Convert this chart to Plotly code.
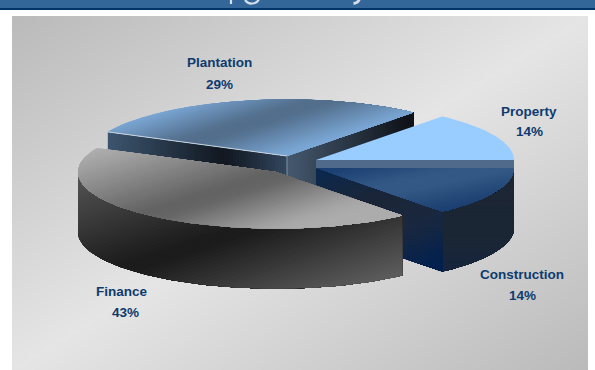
import numpy as np
import plotly.graph_objects as go

# Portfolio split by sector
sectors = ["Property", "Construction", "Finance", "Plantation"]
shares = [14, 14, 43, 29]
percent_text = [f"{v}%" for v in shares]

# Projected pie: ellipse radii and extrusion depth, in page pixels
W, H = 595, 370
RX, RY, DEPTH = 198.0, 56.6, 60.0

# Each slice is pulled away from the centre by its own offset
anchors = {
    "Property": (316, 160),
    "Construction": (316, 168),
    "Finance": (276, 172),
    "Plantation": (287, 156),
}


def hex_rgb(c):
    c = c.lstrip("#")
    return np.array([int(c[i:i + 2], 16) for i in (0, 2, 4)], float)


def colour_at(p, stops):
    """Colour at a position on the gradient axis, softened around each stop."""
    ps = [s[0] for s in stops]
    window = p + np.linspace(-10, 10, 11)
    rgb = [np.interp(window, ps, [hex_rgb(s[1])[k] for s in stops]).mean() for k in range(3)]
    return "rgb(%d,%d,%d)" % tuple(int(round(v)) for v in rgb)


def clip(poly, axis, level):
    """Keep the part of a polygon lying beyond a level along the gradient axis."""
    out = []
    n = len(poly)
    for i in range(n):
        a, b = poly[i], poly[(i + 1) % n]
        pa = a[0] * axis[0] + a[1] * axis[1] - level
        pb = b[0] * axis[0] + b[1] * axis[1] - level
        if pa >= 0:
            out.append(a)
        if (pa >= 0) != (pb >= 0):
            t = pa / (pa - pb)
            out.append((a[0] + t * (b[0] - a[0]), a[1] + t * (b[1] - a[1])))
    return out


def rim(name, a0, a1, n=90):
    cx, cy = anchors[name]
    th = np.radians(np.linspace(a0, a1, n))
    return list(zip(cx + RX * np.cos(th), cy - RY * np.sin(th)))


def rim_point(name, a):
    return rim(name, a, a, 1)[0]


def drop(points):
    return [(x, y + DEPTH) for x, y in points]


def top_face(name, a0, a1):
    return [anchors[name]] + rim(name, a0, a1)


def cut_face(name, a):
    edge = [anchors[name], rim_point(name, a)]
    return edge + drop(edge)[::-1]


def wall_face(name, a0, a1):
    arc = rim(name, a0, a1)
    return arc + drop(arc)[::-1]


fig = go.Figure()


def paint(poly, axis=(0, 1), stops=None, flat=None, steps=60):
    """Fill a face; gradients are layered bands that each run to the far end."""
    if flat is not None:
        levels, colours = [None], [flat]
    else:
        ps = [x * axis[0] + y * axis[1] for x, y in poly]
        levels = np.linspace(min(ps) - 1, max(ps), steps, endpoint=False)
        colours = [colour_at(l + (max(ps) - min(ps)) / steps / 2, stops) for l in levels]
    for level, colour in zip(levels, colours):
        part = poly if level is None else clip(poly, axis, level)
        if len(part) < 3:
            continue
        xs = [p[0] for p in part] + [part[0][0]]
        ys = [p[1] for p in part] + [part[0][1]]
        fig.add_trace(go.Scatter(
            x=xs, y=ys, mode="lines", fill="toself", fillcolor=colour,
            line=dict(width=0), hoverinfo="skip", showlegend=False,
        ))


def stroke(points, colour, width=1.0):
    fig.add_trace(go.Scatter(
        x=[p[0] for p in points], y=[p[1] for p in points], mode="lines",
        line=dict(color=colour, width=width), hoverinfo="skip", showlegend=False,
    ))


# Slice angles follow from the shares: property and construction meet at 0 degrees
sweep = [v / sum(shares) * 360 for v in shares]
prop_a0, prop_a1 = 0.0, sweep[0]
cons_a0, cons_a1 = 0.0, -sweep[1]
fin_a0, fin_a1 = cons_a1, cons_a1 - sweep[2]
pla_a0, pla_a1 = fin_a1, fin_a1 - sweep[3]

# Back-panel gradient: dark corners on one diagonal, light across the other
px0, px1, py0, py1 = 12, 588, 16, 376
gx = np.arange(px0 + 4, px1, 8)
gy = np.arange(py0 + 4, py1, 8)
gu = (gx[None, :] - px0) / (px1 - px0) + (gy[:, None] - py0) / (370 - py0)
fig.add_trace(go.Heatmap(
    x=gx, y=gy, z=1 - np.abs(gu - 1), zmin=0, zmax=1, zsmooth="best",
    colorscale=[[0, "#bababa"], [1, "#e5e5e5"]], showscale=False, hoverinfo="skip",
))

# Plantation (furthest back)
paint(cut_face("Plantation", pla_a1), (1, 0),
      [(287, "#46596f"), (345, "#2b3847"), (411, "#0e1116")])
paint(cut_face("Plantation", pla_a0), (1, 0),
      [(109, "#3d556f"), (225, "#10161f"), (287, "#33475f")])
paint(top_face("Plantation", pla_a0, pla_a1), (0.3, 0.95),
      [(150, "#80aede"), (192, "#4c6580"), (235, "#80aede")])
stroke([rim_point("Plantation", pla_a0), anchors["Plantation"]], "#c9d4de", 1)
stroke([anchors["Plantation"], (anchors["Plantation"][0], anchors["Plantation"][1] + DEPTH)], "#7f93a8", 1)

# Property: only its front cut shows below the flat top
paint(cut_face("Property", prop_a0), flat="#4f6a8a")
paint(top_face("Property", prop_a0, prop_a1), flat="#99ccff")

# Construction
paint(wall_face("Construction", cons_a1, cons_a0), (0, 1),
      [(170, "#1c2633"), (240, "#1b2635"), (280, "#142440")])
paint(cut_face("Construction", cons_a1), (0.4, 0.9),
      [(277, "#0a2850"), (330, "#1b2636"), (370, "#1a2840"), (415, "#002050")])
paint(top_face("Construction", cons_a0, cons_a1), (0.2, 0.98),
      [(228, "#153a6e"), (262, "#3a5f8a"), (300, "#163a6c")])

# Finance (nearest)
paint(wall_face("Finance", -180, fin_a0), (0.32, 0.95),
      [(189, "#565656"), (297, "#181818"), (390, "#5e5e5e")])
paint(top_face("Finance", fin_a0, fin_a1), (0.3, 0.95),
      [(170, "#b0b0b0"), (250, "#5c5c5c"), (300, "#acacac")])

# Page band along the top, with the lower tips of the heading's letters on it
heading_tip = dict(color="#d3deea", width=2.2)
shapes = [
    dict(type="rect", x0=0, x1=W, y0=0, y1=8, fillcolor="#336699", line_width=0, layer="below"),
    dict(type="rect", x0=0, x1=W, y0=8, y1=10, fillcolor="#003366", line_width=0, layer="below"),
    dict(type="path", path="M 231 -1 L 231 4", line=heading_tip),
    dict(type="path", path="M 245 0 Q 248 4 252 3.5 Q 257 3.5 259 -1", line=heading_tip),
    dict(type="path", path="M 359.5 -1 Q 358 3 353.5 3.5", line=dict(color="#d3deea", width=2.8)),
]

name_pos = {"Property": (529, 111), "Construction": (522, 274),
            "Finance": (122, 291), "Plantation": (219, 62)}
pct_pos = {"Property": (529, 131), "Construction": (522, 295),
           "Finance": (125, 312), "Plantation": (219, 84)}
label_font = dict(family="Liberation Sans", size=13.5, color="#0d3b6e")

annotations = []
for s, pct in zip(sectors, percent_text):
    for pos, text in ((name_pos[s], s), (pct_pos[s], pct)):
        annotations.append(dict(x=pos[0], y=pos[1], text=f"<b>{text}</b>", showarrow=False,
                                xanchor="center", yanchor="middle", font=label_font))

fig.update_layout(
    width=W, height=H, margin=dict(l=0, r=0, t=0, b=0),
    paper_bgcolor="white", plot_bgcolor="rgba(0,0,0,0)",
    xaxis=dict(range=[0, W], visible=False, fixedrange=True),
    yaxis=dict(range=[H, 0], visible=False, fixedrange=True),
    shapes=shapes, annotations=annotations,
)

fig.write_html("out.html", config=dict(displayModeBar=False))
